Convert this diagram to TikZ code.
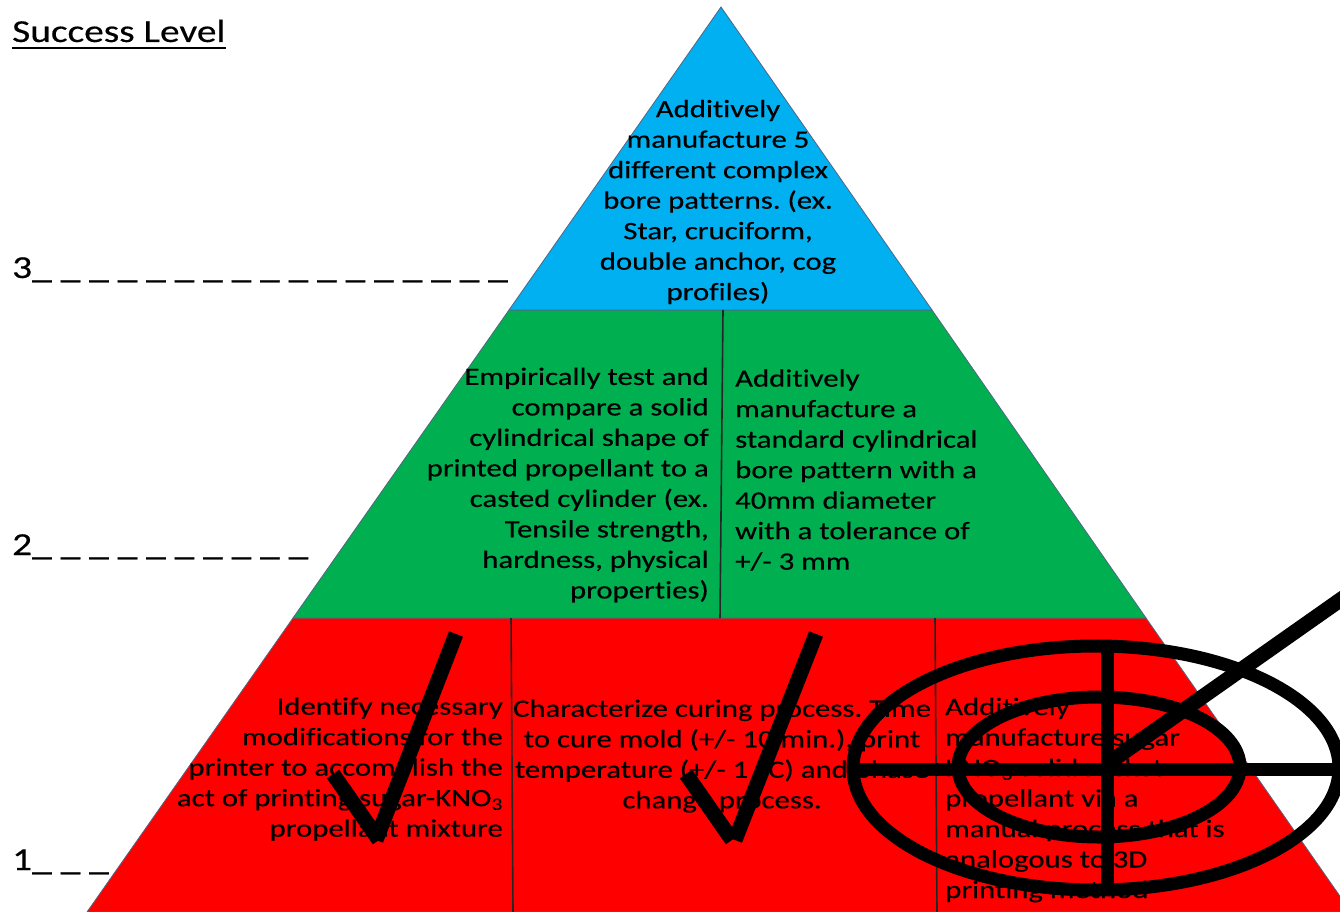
\documentclass[tikz,border=0pt]{standalone}
\usepackage{fontspec}
\setmainfont{Carlito}[FakeStretch=1.23,FakeBold=0.4,Ligatures=NoCommon]
\definecolor{tierblue}{RGB}{0,176,240}
\definecolor{tiergreen}{RGB}{0,176,80}
\definecolor{tierred}{RGB}{255,0,0}
\definecolor{edgegray}{RGB}{85,100,130}
\tikzset{
  lbl/.style={font=\fontsize{32}{38}\selectfont, inner sep=0pt, anchor=base west},
  body/.style={font=\fontsize{25}{30.5}\selectfont, inner sep=0pt, text=black},
  tier/.style={draw=edgegray, line width=0.8pt},
  divider/.style={draw=black!85, line width=1.6pt},
  inkstroke/.style={draw=black, line width=15pt, line cap=butt},
  ring/.style={draw=black, line width=13pt},
}
\frenchspacing
\begin{document}
\begin{tikzpicture}[x=1pt,y=-1pt]
\useasboundingbox (0,0) rectangle (1340,912);
\clip (0,0) rectangle (1340,912);

% pyramid corners
\coordinate (apex) at (721,7);
\coordinate (b3l) at (509,310);  \coordinate (b3r) at (932,310);
\coordinate (b2l) at (293,618);  \coordinate (b2r) at (1146,618);
\coordinate (b1l) at (87,912);   \coordinate (b1r) at (1351,912);

% tiers
\path[tier, fill=tierred]   (b2l) -- (b2r) -- (b1r) -- (b1l) -- cycle;
\path[tier, fill=tiergreen] (b3l) -- (b3r) -- (b2r) -- (b2l) -- cycle;
\path[tier, fill=tierblue]  (apex) -- (b3r) -- (b3l) -- cycle;

% column dividers
\coordinate (g1t) at (723,310); \coordinate (g1b) at (720,618);
\coordinate (r1t) at (511,618); \coordinate (r1b) at (513,912);
\coordinate (r2t) at (935,618); \coordinate (r2b) at (937,912);
\draw[divider] (g1t) -- (g1b);
\draw[divider] (r1t) -- (r1b);
\draw[divider] (r2t) -- (r2b);

% heading and level marks
\node[lbl] (title) at (12,42) {Success Level};
\draw[line width=2.6pt] ([yshift=-6pt]title.base west) -- ([yshift=-6pt]title.base east);
\node[lbl] (lvl3) at (12,278) {3\_ \_ \_ \_ \_ \_ \_ \_ \_ \_ \_ \_ \_ \_ \_ \_ \_};
\node[lbl] (lvl2) at (12,555) {2\_ \_ \_ \_ \_ \_ \_ \_ \_ \_};
\node[lbl] (lvl1) at (12,870) {1\_ \_ \_};

% tier 3
\node[body, align=center] (top) at (718,202) {Additively\\manufacture 5\\different complex\\bore patterns. (ex.\\Star, cruciform,\\double anchor, cog\\profiles)};

% tier 2
\node[body, align=right, anchor=east] (midL) at (709,485) {Empirically test and\\compare a solid\\cylindrical shape of\\printed propellant to a\\casted cylinder (ex.\\Tensile strength,\\hardness, physical\\properties)};
\node[body, align=left, anchor=west] (midR) at (735,470) {Additively\\manufacture a\\standard cylindrical\\bore pattern with a\\40mm diameter\\with a tolerance of\\+/- 3 mm};

% tier 1
\node[body, align=right, anchor=east] (lowL) at (503,769) {Identify necessary\\modifications for the\\printer to accomplish the\\act of printing sugar-KNO\textsubscript{3}\\propellant mixture};
\node[body, align=center] (lowM) at (722,756) {Characterize curing process. Time\\to cure mold (+/- 10 min.), print\\temperature (+/- 1 ºC) and phase\\change process.};
\node[body, align=left, anchor=west] (lowR) at (945,800) {Additively\\manufacture sugar\\KNO\textsubscript{3} solid rocket\\propellant via a\\manual process that is\\analogous to 3D\\printing method};

% check marks
\coordinate (c1a) at (333,774); \coordinate (c1b) at (379,840);
\coordinate (c1c) at (376,840); \coordinate (c1d) at (456,634);
\draw[inkstroke] (c1a) -- (c1b);
\draw[inkstroke] (c1c) -- (c1d);
\coordinate (c2a) at (686,774); \coordinate (c2b) at (732,840);
\coordinate (c2c) at (735,840); \coordinate (c2d) at (816,634);
\draw[inkstroke] (c2a) -- (c2b);
\draw[inkstroke] (c2c) -- (c2d);

% target
\coordinate (tc) at (1096,768);
\coordinate (ic) at (1099,767);
\draw[ring] (tc) ellipse [x radius=243, y radius=122];
\draw[ring] (ic) ellipse [x radius=141, y radius=70];
\coordinate (hl) at (858,769); \coordinate (hr) at (1345,769);
\coordinate (vt) at (1107,652); \coordinate (vb) at (1107,886);
\coordinate (dg0) at (1107,764); \coordinate (dg1) at (1360,586);
\draw[line width=13pt] (hl) -- (hr);
\draw[line width=13pt] (vt) -- (vb);
\draw[line width=15pt] (dg0) -- (dg1);
\end{tikzpicture}
\end{document}
